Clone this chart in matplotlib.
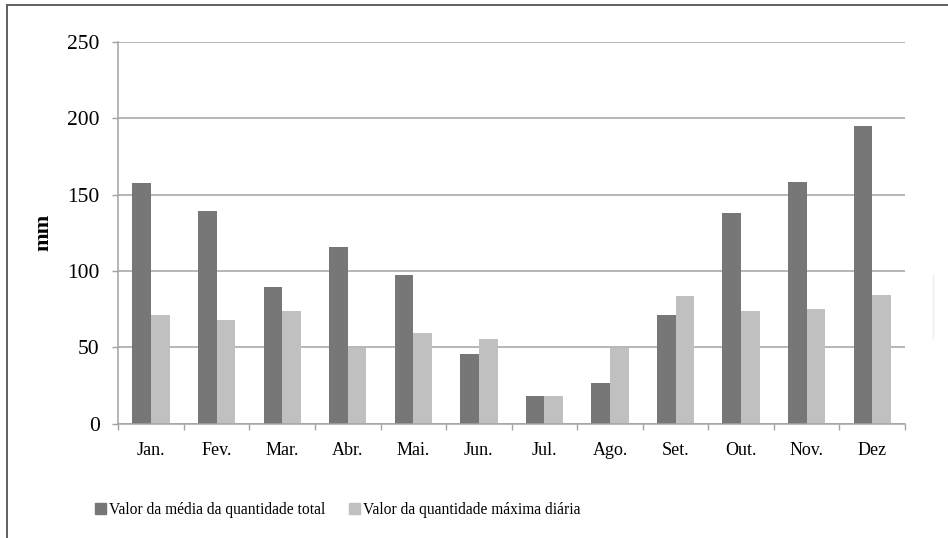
import matplotlib
matplotlib.use("Agg")
import matplotlib.pyplot as plt
import matplotlib.patches as patches
from matplotlib.lines import Line2D
import numpy as np

months = ["Jan.", "Fev.", "Mar.", "Abr.", "Mai.", "Jun.", "Jul.", "Ago.", "Set.", "Out.", "Nov.", "Dez"]
media_total = [157.5, 139.5, 89.7, 115.4, 97.5, 45.8, 18.1, 26.4, 70.9, 137.9, 158.2, 194.6]
maxima_diaria = [70.9, 67.9, 73.8, 49.7, 59.2, 55.6, 18.1, 49.7, 83.8, 73.8, 75.1, 84.0]
series_labels = ["Valor da média da quantidade total", "Valor da quantidade máxima diária"]
y_ticks = [0, 50, 100, 150, 200, 250]

DARK = "#777777"
LIGHT = "#c0c0c0"
GRID = "#a3a3a3"

plt.rcParams["font.family"] = ["Liberation Serif", "DejaVu Serif"]


def make_chart(dpi=100, figsize=(9.48, 5.38)):
    """Monthly precipitation bar chart."""
    fig = plt.figure(dpi=dpi, figsize=figsize)
    W, H = figsize[0] * dpi, figsize[1] * dpi
    ax = fig.add_axes([118.3 / W, 114.3 / H, 786.7 / W, 382 / H])

    x = np.arange(len(months))
    w = 0.285
    ax.bar(x - w / 2, media_total, width=w, color=DARK, zorder=3)
    ax.bar(x + w / 2, maxima_diaria, width=w, color=LIGHT, zorder=3)

    ax.set_xlim(-0.5, len(months) - 0.5)
    ax.set_ylim(0, 250)
    ax.set_yticks(y_ticks)
    ax.set_yticklabels([str(v) for v in y_ticks], fontsize=15.5)
    ax.yaxis.grid(True, color=GRID, linewidth=1.1, zorder=0)
    ax.tick_params(axis="y", length=4.5, width=1.0, color=GRID, pad=9, labelcolor="black")

    ax.set_xticks(x)
    ax.set_xticklabels(months, fontsize=13)
    ax.set_xticks(np.arange(len(months) + 1) - 0.5, minor=True)
    ax.tick_params(axis="x", which="major", length=0, pad=13)
    ax.tick_params(axis="x", which="minor", length=4.5, width=1.0, color=GRID)

    for side in ["top", "right"]:
        ax.spines[side].set_visible(False)
    for side in ["left", "bottom"]:
        ax.spines[side].set_color(GRID)
        ax.spines[side].set_linewidth(1.1)
        ax.spines[side].set_zorder(4)

    ax.set_ylabel("mm", fontsize=16, fontweight="bold", labelpad=10)

    handles = [patches.Patch(color=DARK), patches.Patch(color=LIGHT)]
    fig.legend(handles, series_labels, loc="center left",
               bbox_to_anchor=(95 / W, 28.5 / H), ncol=2, frameon=False,
               fontsize=11.2, handlelength=0.72, handleheight=0.72,
               handletextpad=0.2, columnspacing=1.5, borderpad=0, borderaxespad=0)

    # outer frame (only top and left edges show in the crop)
    fig.add_artist(Line2D([7 / W, 7 / W], [0, 1 - 5 / H], color="#606060", linewidth=1.4))
    fig.add_artist(Line2D([7 / W, 1], [1 - 5 / H, 1 - 5 / H], color="#606060", linewidth=1.4))
    fig.add_artist(Line2D([933 / W, 933 / W], [1 - 338 / H, 1 - 275 / H], color="#eeeeee", linewidth=1.0))

    fig.savefig("out.png", dpi=dpi)


if __name__ == "__main__":
    make_chart()
